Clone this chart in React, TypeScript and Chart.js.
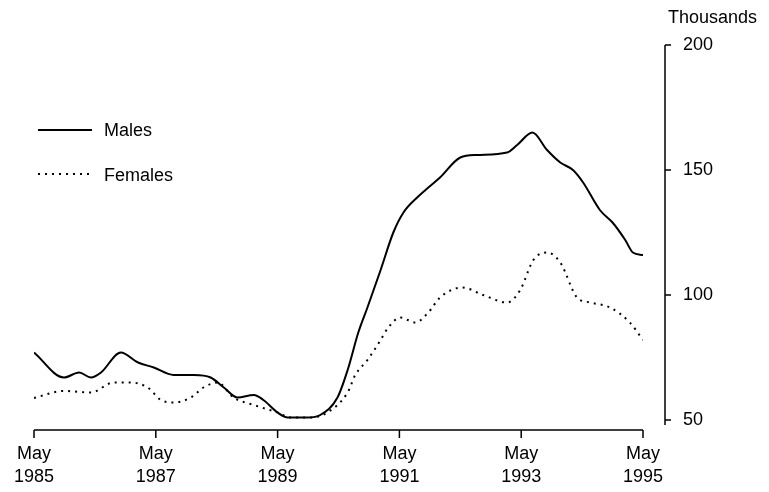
import React, { useEffect, useRef } from "react";
import { Chart, registerables } from "chart.js";

Chart.register(...registerables);

// Months since May 1985
const malesMonth = [0, 5.9, 8.9, 11.2, 13.2, 17.1, 20.5, 23.6, 27.5, 31.5, 34.8, 37.4, 40.1, 43.3, 45.2, 48, 50, 53.9, 56.4, 59.8, 61.8, 63.9, 65.7, 68.3, 70.8, 72.8, 75.5, 77.7, 80, 84, 87.3, 93.2, 95.2, 98.2, 101.1, 103.7, 106.2, 108.2, 111.5, 114, 116.5, 118, 120];
const malesValue = [77, 67, 69, 67, 69, 77, 73, 71, 68, 68, 67, 63, 59, 60, 58, 53, 51, 51, 52, 59, 70, 85, 95, 110, 125, 133, 139, 143, 147, 155, 156, 157, 160, 165, 158, 153, 150, 145, 134, 129, 122, 117, 116];

const femalesMonth = [0, 5.9, 11.2, 15.7, 19.1, 22.4, 25, 27.5, 30.9, 33.4, 36.2, 39.3, 43.3, 48, 50.6, 54.5, 57.8, 61.8, 63.3, 65.7, 68.3, 69.8, 72.2, 75.1, 77.7, 80, 84.4, 88.5, 93.2, 95.8, 98.4, 101.1, 103.7, 107, 109.6, 113.5, 117.4, 120];
const femalesValue = [58.8, 61.6, 61, 65, 65, 63, 58, 57, 59, 63, 65, 59, 56, 53, 51, 51, 53, 61, 68, 74, 82, 87, 91, 89, 93, 99, 103, 100, 97, 102, 114, 117, 113, 99, 97, 95, 89, 82];

const xTickLabels = [["May", "1985"], ["May", "1987"], ["May", "1989"], ["May", "1991"], ["May", "1993"], ["May", "1995"]];
const yTicks = [50, 100, 150, 200];
const seriesNames = ["Males", "Females"];
const yUnit = "Thousands";

const FONT = "'Liberation Sans', Arial, Helvetica, sans-serif";

export default function App() {
  const ref = useRef<HTMLCanvasElement | null>(null);
  useEffect(() => {
    document.body.style.margin = "0";
    const canvas = ref.current;
    if (!canvas) return;

    const decor = {
      id: "decor",
      afterDraw(chart: any) {
        const ctx = chart.ctx;
        const x = chart.scales.x;
        const y = chart.scales.y;
        const ca = chart.chartArea;
        ctx.save();
        ctx.strokeStyle = "#000";
        ctx.lineWidth = 1.5;
        // x axis
        const ax = ca.bottom + 10;
        ctx.beginPath();
        ctx.moveTo(x.getPixelForValue(0), ax);
        ctx.lineTo(x.getPixelForValue(120), ax);
        x.ticks.forEach((t: any) => {
          const px = x.getPixelForValue(t.value);
          ctx.moveTo(px, ax);
          ctx.lineTo(px, ax + 8);
        });
        ctx.stroke();
        // y axis
        const ay = ca.right + 22;
        ctx.beginPath();
        ctx.moveTo(ay, y.getPixelForValue(200));
        ctx.lineTo(ay, y.getPixelForValue(50) + 5);
        yTicks.forEach((v) => {
          const py = y.getPixelForValue(v);
          ctx.moveTo(ay, py);
          ctx.lineTo(ay + 6, py);
        });
        ctx.stroke();
        // unit label
        ctx.fillStyle = "#000";
        ctx.font = `18px ${FONT}`;
        ctx.textAlign = "left";
        ctx.textBaseline = "middle";
        ctx.fillText(yUnit, ay + 3, ca.top - 27);
        // legend
        const lx = ca.left + 4;
        const rows = [ca.top + 85, ca.top + 129];
        ctx.lineWidth = 1.8;
        ctx.beginPath();
        ctx.moveTo(lx, rows[0]);
        ctx.lineTo(lx + 54, rows[0]);
        ctx.stroke();
        ctx.setLineDash([2, 5]);
        ctx.beginPath();
        ctx.moveTo(lx, rows[1]);
        ctx.lineTo(lx + 54, rows[1]);
        ctx.stroke();
        ctx.setLineDash([]);
        ctx.fillText(seriesNames[0], lx + 66, rows[0] + 1);
        ctx.fillText(seriesNames[1], lx + 66, rows[1] + 2);
        ctx.restore();
      },
    };

    const chart = new Chart(canvas, {
      type: "line",
      data: {
        datasets: [
          {
            label: seriesNames[0],
            data: malesMonth.map((m, i) => ({ x: m, y: malesValue[i] })),
            borderColor: "#000",
            borderWidth: 2,
            pointRadius: 0,
            cubicInterpolationMode: "monotone",
            fill: false,
          },
          {
            label: seriesNames[1],
            data: femalesMonth.map((m, i) => ({ x: m, y: femalesValue[i] })),
            borderColor: "#000",
            borderWidth: 2,
            borderDash: [2, 5],
            pointRadius: 0,
            cubicInterpolationMode: "monotone",
            fill: false,
          },
        ],
      },
      options: {
        responsive: false,
        animation: false,
        devicePixelRatio: 1,
        layout: { padding: { left: 33, top: 45, right: 0, bottom: 0 } },
        plugins: { legend: { display: false }, tooltip: { enabled: false } },
        scales: {
          x: {
            type: "linear",
            min: 0,
            max: 120,
            grid: { display: false },
            border: { display: false },
            ticks: {
              stepSize: 24,
              padding: 14,
              color: "#000",
              maxRotation: 0,
              autoSkip: false,
              font: { family: FONT, size: 18, lineHeight: 1.3 },
              callback: (v: any) => xTickLabels[Math.round(Number(v) / 24)] ?? "",
            },
            afterFit: (s: any) => {
              s.height = 72;
            },
          },
          y: {
            position: "right",
            min: 50,
            max: 200,
            grid: { display: false },
            border: { display: false },
            ticks: {
              stepSize: 50,
              padding: 32,
              color: "#000",
              font: { family: FONT, size: 18 },
            },
            afterFit: (s: any) => {
              s.width = 126;
            },
          },
        },
      },
      plugins: [decor],
    });
    return () => chart.destroy();
  }, []);
  return (
    <div style={{ width: 769, height: 492, background: "#fff" }}>
      <canvas ref={ref} width={769} height={492} />
    </div>
  );
}
